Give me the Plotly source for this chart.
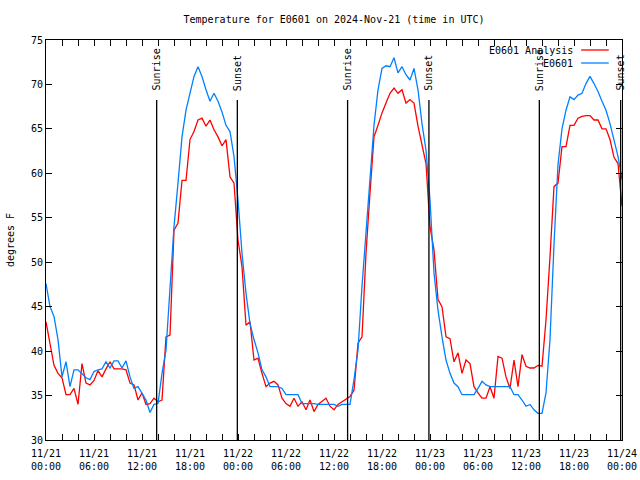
import pandas as pd
import plotly.graph_objects as go

# Half-hourly readings, 2024-11-21 00:00 .. 2024-11-24 00:00 (UTC)
start_time = "2024-11-21 00:00"
analysis_vals = [
    43.3, 40.9, 38.4, 37.5, 37.0, 35.1, 35.1, 35.8, 34.0, 38.6, 36.4, 36.2, 36.7, 37.8, 37.1, 38.0,
    38.8, 38.0, 38.0, 38.0, 37.9, 36.4, 36.2, 34.5, 35.3, 34.0, 34.1, 34.7, 34.3, 34.5, 41.6, 41.8,
    53.6, 54.4, 59.2, 59.2, 63.8, 64.7, 66.0, 66.2, 65.3, 66.0, 64.9, 64.1, 63.1, 63.8, 59.6, 58.9,
    52.5,
    49.5, 42.9, 43.3, 39.0, 39.2, 37.5, 36.0, 36.4, 36.6, 36.2, 34.7, 34.1, 33.8, 34.7, 33.8, 34.3,
    33.4, 34.5, 33.2, 34.0, 34.3, 34.7, 33.8, 33.4, 34.0, 34.3, 34.7, 34.9, 35.6, 40.9, 41.6, 51.0,
    57.8, 64.1, 65.4, 66.8, 67.9, 69.0, 69.6, 69.0, 69.4, 67.9, 68.3, 67.9, 65.3, 63.0, 61.1, 54.0,
    51.4, 45.8, 45.0, 41.6, 41.4, 38.8, 39.8, 37.5, 39.0, 38.6, 36.0, 35.3, 34.7, 34.7, 36.0, 34.7,
    39.4, 39.2, 37.1, 35.8, 39.0, 36.0, 39.6, 38.3, 38.1, 38.1, 38.4, 38.3, 43.5, 50.6, 58.5, 58.9,
    63.0, 63.0, 65.4, 65.4, 66.2, 66.4, 66.5, 66.5, 66.0, 66.0, 65.0, 65.0, 63.8, 61.8, 61.1, 56.3,
]
station_vals = [
    47.6, 45.0, 43.9, 41.3, 37.1, 38.8, 36.0, 37.9, 37.9, 37.5, 37.0, 36.8, 37.7, 37.9, 38.0, 38.8,
    38.1, 38.9, 38.9, 38.1, 38.9, 37.1, 35.8, 36.0, 35.3, 34.5, 33.1, 34.0, 34.1, 37.5, 40.1, 46.5,
    54.0, 58.9, 64.1, 67.1, 69.2, 70.9, 72.0, 70.9, 69.4, 68.1, 69.0, 68.1, 66.9, 65.4, 64.7, 61.9,
    57.0,
    51.0, 46.5, 43.1, 41.3, 39.8, 37.9, 37.1, 36.0, 36.0, 36.0, 35.8, 35.1, 35.1, 35.1, 35.1, 34.1,
    34.1, 34.1, 34.1, 34.0, 34.0, 34.0, 34.0, 34.0, 33.8, 34.0, 34.0, 34.0, 36.8, 40.1, 47.3, 53.6,
    60.0, 65.4, 69.4, 71.8, 72.1, 72.0, 73.0, 71.3, 72.0, 71.1, 70.5, 71.8, 69.4, 65.6, 62.6, 57.0,
    48.8, 44.6, 41.6, 39.0, 37.5, 36.4, 36.0, 35.1, 35.1, 35.1, 35.1, 35.8, 36.6, 36.2, 36.0, 36.0,
    36.0, 36.0, 36.0, 36.0, 35.1, 35.1, 34.5, 33.8, 34.0, 33.4, 33.0, 33.0, 35.3, 41.3, 52.0, 61.0,
    65.0, 67.1, 68.6, 68.3, 68.8, 69.0, 70.1, 70.9, 70.1, 69.2, 68.1, 67.1, 65.6, 63.8, 61.9, 59.3,
]
sun_times = ["2024-11-21 13:50", "2024-11-21 23:55", "2024-11-22 13:42",
             "2024-11-22 23:52", "2024-11-23 13:40", "2024-11-23 23:50"]
sun_labels = ["Sunrise", "Sunset", "Sunrise", "Sunset", "Sunrise", "Sunset"]
series_names = ["E0601 Analysis", "E0601"]
series_colors = ["#ff0000", "#0080ff"]
y_ticks = [30, 35, 40, 45, 50, 55, 60, 65, 70, 75]

times = pd.date_range(start_time, periods=len(analysis_vals), freq="30min")

FONT = "DejaVu Sans Mono"
fig = go.Figure()
for name, vals, col in zip(series_names, [analysis_vals, station_vals], series_colors):
    fig.add_trace(go.Scatter(x=times, y=vals, mode="lines", name=name,
                             line=dict(color=col, width=1.3), showlegend=False))

for t, lab in zip(sun_times, sun_labels):
    fig.add_shape(type="line", xref="x", yref="paper", x0=t, x1=t, y0=0, y1=0.85,
                  line=dict(color="black", width=1.3))
    fig.add_annotation(x=t, xref="x", y=0.868, yref="paper", text=lab, textangle=-90,
                       showarrow=False, xanchor="center", yanchor="bottom",
                       font=dict(family=FONT, size=10, color="black"))

# legend (text right-aligned, sample line to the right)
leg_y = [0.975, 0.9425]
for name, col, ly in zip(series_names, series_colors, leg_y):
    fig.add_annotation(x=0.919, xref="paper", y=ly, yref="paper", text=name, showarrow=False,
                       xanchor="right", yanchor="middle",
                       font=dict(family=FONT, size=10, color="black"), bgcolor="rgba(0,0,0,0)")
    fig.add_shape(type="line", xref="paper", yref="paper", x0=0.929, x1=0.977, y0=ly, y1=ly,
                  line=dict(color=col, width=1.3))

fig.update_layout(
    width=640, height=480,
    margin=dict(l=46, r=18, t=40, b=40, autoexpand=False),
    paper_bgcolor="white", plot_bgcolor="white",
    font=dict(family=FONT, size=10, color="black"),
    title=dict(text="Temperature for E0601 on 2024-Nov-21 (time in UTC)",
               x=0.5, xref="paper", y=1 - 19 / 480, yref="container",
               xanchor="center", yanchor="middle",
               font=dict(family=FONT, size=10, color="black")),
)
fig.update_xaxes(
    type="date", range=["2024-11-21 00:00", "2024-11-24 00:00"], automargin=False,
    dtick=6 * 3600 * 1000, tick0="2024-11-21 00:00", tickformat="%m/%d<br>%H:%M",
    ticks="inside", ticklen=6, tickcolor="black", tickwidth=1, ticklabelstandoff=4,
    minor=dict(dtick=2 * 3600 * 1000, ticks="inside", ticklen=6, tickcolor="black"),
    showline=True, linecolor="black", linewidth=1, mirror="ticks",
    showgrid=False, zeroline=False, tickfont=dict(family=FONT, size=10, color="black"),
)
fig.update_yaxes(
    range=[30, 75], tickvals=y_ticks, ticks="inside", ticklen=6, tickcolor="black",
    showline=True, linecolor="black", linewidth=1, mirror="ticks", automargin=False,
    showgrid=False, zeroline=False, tickfont=dict(family=FONT, size=10, color="black"),
    title=dict(text="degrees F", font=dict(family=FONT, size=10, color="black"), standoff=14),
)
fig.write_html("out.html")
